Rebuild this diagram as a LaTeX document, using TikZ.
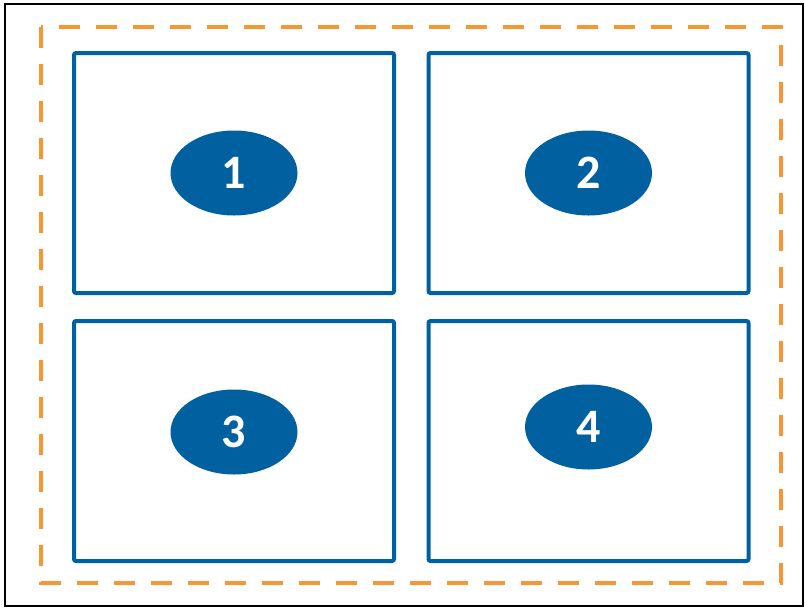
\documentclass[tikz,border=0pt]{standalone}
\usepackage{fontspec}
\setmainfont{Carlito}
\usetikzlibrary{positioning,shapes.geometric}
\definecolor{paneblue}{RGB}{0,96,160}
\definecolor{frameorange}{RGB}{247,150,50}
\tikzset{
  pane/.style={
    rectangle, draw=paneblue, line width=4pt, rounded corners=2pt,
    minimum width=320pt, minimum height=240pt, inner sep=0pt, outer sep=0pt
  },
  badge/.style={
    ellipse, fill=paneblue, text=white, inner sep=0pt,
    minimum width=127pt, minimum height=85pt,
    font=\fontsize{48}{48}\selectfont\bfseries
  },
  frame/.style={draw=frameorange, line width=4pt, dash pattern=on 21pt off 16pt}
}

\begin{document}
\begin{tikzpicture}[x=1pt, y=-1pt]
\useasboundingbox (0,0) rectangle (805,608);
\draw[line width=2pt] (5,4) rectangle (803,606);
\draw[frame] (41,27) rectangle (781,583);
% four panes
\node[pane] (pane1) at (234,173) {};
\node[pane, right=34.5pt of pane1] (pane2) {};
\node[pane, below=28pt of pane1] (pane3) {};
\node[pane, right=34.5pt of pane3] (pane4) {};
% numbered badges
\node[badge] (num1) at (pane1) {1};
\node[badge] (num2) at (pane2) {2};
\node[badge, yshift=9pt] (num3) at (pane3) {3};
\node[badge, yshift=14pt] (num4) at (pane4) {4};
\end{tikzpicture}
\end{document}
